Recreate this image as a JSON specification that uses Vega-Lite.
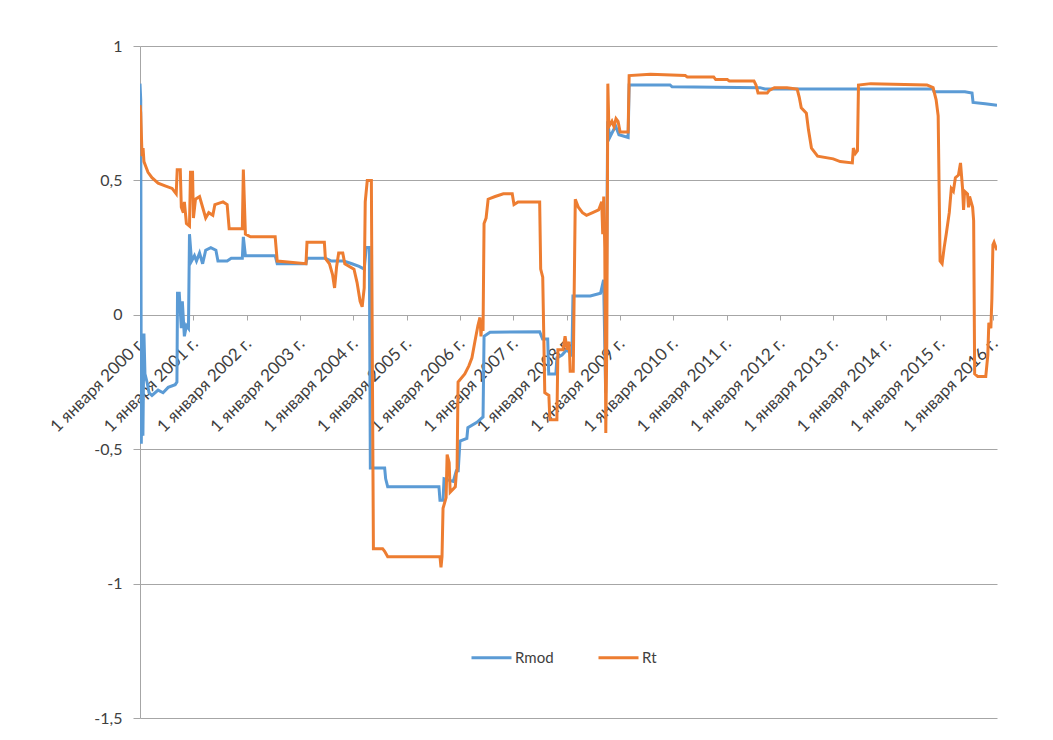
{
  "$schema": "https://vega.github.io/schema/vega-lite/v6.json",
  "autosize": {"type": "none"},
  "width": 857,
  "height": 672,
  "padding": {"left": 140, "top": 46, "right": 56, "bottom": 22},
  "background": "white",
  "config": {
    "view": {"stroke": null},
    "font": "Lato"
  },
  "data": {"values": [
    {"s":"Rmod","d":"2000-01-01","v":0.86},{"s":"Rmod","d":"2000-01-06","v":0.80},{"s":"Rmod","d":"2000-01-10","v":-0.48},{"s":"Rmod","d":"2000-01-17","v":-0.10},
    {"s":"Rmod","d":"2000-01-21","v":-0.45},{"s":"Rmod","d":"2000-01-28","v":-0.07},{"s":"Rmod","d":"2000-02-04","v":-0.22},{"s":"Rmod","d":"2000-02-18","v":-0.25},
    {"s":"Rmod","d":"2000-03-03","v":-0.29},{"s":"Rmod","d":"2000-03-23","v":-0.30},{"s":"Rmod","d":"2000-05-04","v":-0.28},{"s":"Rmod","d":"2000-06-07","v":-0.29},
    {"s":"Rmod","d":"2000-07-12","v":-0.27},{"s":"Rmod","d":"2000-08-29","v":-0.26},{"s":"Rmod","d":"2000-09-10","v":-0.25},{"s":"Rmod","d":"2000-09-14","v":0.08},
    {"s":"Rmod","d":"2000-09-26","v":0.08},{"s":"Rmod","d":"2000-10-10","v":-0.05},{"s":"Rmod","d":"2000-10-17","v":0.05},{"s":"Rmod","d":"2000-10-31","v":-0.08},
    {"s":"Rmod","d":"2000-11-14","v":-0.04},{"s":"Rmod","d":"2000-11-28","v":-0.05},{"s":"Rmod","d":"2000-12-05","v":0.30},{"s":"Rmod","d":"2000-12-19","v":0.20},
    {"s":"Rmod","d":"2001-01-08","v":0.22},{"s":"Rmod","d":"2001-01-22","v":0.20},{"s":"Rmod","d":"2001-02-12","v":0.23},{"s":"Rmod","d":"2001-03-05","v":0.19},
    {"s":"Rmod","d":"2001-03-26","v":0.24},{"s":"Rmod","d":"2001-04-30","v":0.25},{"s":"Rmod","d":"2001-06-04","v":0.24},{"s":"Rmod","d":"2001-06-18","v":0.20},
    {"s":"Rmod","d":"2001-08-20","v":0.20},{"s":"Rmod","d":"2001-09-17","v":0.21},{"s":"Rmod","d":"2001-12-02","v":0.21},{"s":"Rmod","d":"2001-12-09","v":0.29},
    {"s":"Rmod","d":"2001-12-23","v":0.22},{"s":"Rmod","d":"2002-07-15","v":0.22},{"s":"Rmod","d":"2002-07-29","v":0.19},{"s":"Rmod","d":"2003-02-11","v":0.19},
    {"s":"Rmod","d":"2003-02-18","v":0.21},{"s":"Rmod","d":"2003-06-24","v":0.21},{"s":"Rmod","d":"2003-08-05","v":0.20},{"s":"Rmod","d":"2003-10-28","v":0.20},
    {"s":"Rmod","d":"2003-12-23","v":0.19},{"s":"Rmod","d":"2004-02-10","v":0.18},{"s":"Rmod","d":"2004-03-16","v":0.17},{"s":"Rmod","d":"2004-03-30","v":0.25},
    {"s":"Rmod","d":"2004-04-20","v":0.25},{"s":"Rmod","d":"2004-04-27","v":-0.57},{"s":"Rmod","d":"2004-08-03","v":-0.57},{"s":"Rmod","d":"2004-08-10","v":-0.61},
    {"s":"Rmod","d":"2004-08-24","v":-0.64},{"s":"Rmod","d":"2005-08-10","v":-0.64},{"s":"Rmod","d":"2005-08-17","v":-0.69},{"s":"Rmod","d":"2005-09-07","v":-0.69},
    {"s":"Rmod","d":"2005-09-14","v":-0.61},{"s":"Rmod","d":"2005-11-16","v":-0.62},{"s":"Rmod","d":"2005-12-07","v":-0.58},{"s":"Rmod","d":"2005-12-20","v":-0.58},
    {"s":"Rmod","d":"2006-01-01","v":-0.47},{"s":"Rmod","d":"2006-02-17","v":-0.46},{"s":"Rmod","d":"2006-02-24","v":-0.42},{"s":"Rmod","d":"2006-04-27","v":-0.40},
    {"s":"Rmod","d":"2006-06-08","v":-0.38},{"s":"Rmod","d":"2006-06-15","v":-0.08},{"s":"Rmod","d":"2006-07-26","v":-0.065},{"s":"Rmod","d":"2007-07-01","v":-0.063},
    {"s":"Rmod","d":"2007-07-21","v":-0.09},{"s":"Rmod","d":"2007-08-25","v":-0.09},{"s":"Rmod","d":"2007-09-01","v":-0.22},{"s":"Rmod","d":"2007-10-20","v":-0.22},
    {"s":"Rmod","d":"2007-10-27","v":-0.16},{"s":"Rmod","d":"2007-12-01","v":-0.15},{"s":"Rmod","d":"2008-01-03","v":-0.13},{"s":"Rmod","d":"2008-02-07","v":-0.15},
    {"s":"Rmod","d":"2008-02-14","v":0.07},{"s":"Rmod","d":"2008-06-12","v":0.07},{"s":"Rmod","d":"2008-08-21","v":0.08},{"s":"Rmod","d":"2008-09-11","v":0.13},
    {"s":"Rmod","d":"2008-09-25","v":-0.29},{"s":"Rmod","d":"2008-10-09","v":0.72},{"s":"Rmod","d":"2008-10-23","v":0.66},{"s":"Rmod","d":"2008-11-20","v":0.69},
    {"s":"Rmod","d":"2008-12-04","v":0.70},{"s":"Rmod","d":"2008-12-25","v":0.67},{"s":"Rmod","d":"2009-02-26","v":0.66},{"s":"Rmod","d":"2009-03-05","v":0.855},
    {"s":"Rmod","d":"2009-12-10","v":0.855},{"s":"Rmod","d":"2009-12-24","v":0.848},{"s":"Rmod","d":"2011-08-18","v":0.845},{"s":"Rmod","d":"2011-09-22","v":0.84},
    {"s":"Rmod","d":"2014-11-16","v":0.84},{"s":"Rmod","d":"2014-11-23","v":0.83},{"s":"Rmod","d":"2015-06-22","v":0.83},{"s":"Rmod","d":"2015-08-10","v":0.825},
    {"s":"Rmod","d":"2015-08-17","v":0.79},{"s":"Rmod","d":"2015-11-08","v":0.785},{"s":"Rmod","d":"2016-01-28","v":0.78},

    {"s":"Rt","d":"2000-01-01","v":0.78},{"s":"Rt","d":"2000-01-06","v":0.75},{"s":"Rt","d":"2000-01-15","v":0.59},{"s":"Rt","d":"2000-01-22","v":0.62},
    {"s":"Rt","d":"2000-01-28","v":0.57},{"s":"Rt","d":"2000-02-11","v":0.55},{"s":"Rt","d":"2000-02-25","v":0.53},{"s":"Rt","d":"2000-03-23","v":0.51},
    {"s":"Rt","d":"2000-05-04","v":0.49},{"s":"Rt","d":"2000-06-21","v":0.48},{"s":"Rt","d":"2000-08-08","v":0.47},{"s":"Rt","d":"2000-09-05","v":0.45},
    {"s":"Rt","d":"2000-09-12","v":0.54},{"s":"Rt","d":"2000-10-03","v":0.54},{"s":"Rt","d":"2000-10-10","v":0.40},{"s":"Rt","d":"2000-10-24","v":0.38},
    {"s":"Rt","d":"2000-10-31","v":0.42},{"s":"Rt","d":"2000-11-14","v":0.34},{"s":"Rt","d":"2000-12-05","v":0.33},{"s":"Rt","d":"2000-12-12","v":0.53},
    {"s":"Rt","d":"2000-12-26","v":0.53},{"s":"Rt","d":"2001-01-01","v":0.36},{"s":"Rt","d":"2001-01-15","v":0.43},{"s":"Rt","d":"2001-02-12","v":0.44},
    {"s":"Rt","d":"2001-03-05","v":0.40},{"s":"Rt","d":"2001-03-26","v":0.36},{"s":"Rt","d":"2001-04-16","v":0.38},{"s":"Rt","d":"2001-05-14","v":0.37},
    {"s":"Rt","d":"2001-05-28","v":0.41},{"s":"Rt","d":"2001-07-23","v":0.42},{"s":"Rt","d":"2001-08-20","v":0.41},{"s":"Rt","d":"2001-09-03","v":0.32},
    {"s":"Rt","d":"2001-12-02","v":0.32},{"s":"Rt","d":"2001-12-09","v":0.54},{"s":"Rt","d":"2001-12-23","v":0.30},{"s":"Rt","d":"2002-01-27","v":0.29},
    {"s":"Rt","d":"2002-07-15","v":0.29},{"s":"Rt","d":"2002-07-29","v":0.20},{"s":"Rt","d":"2003-02-11","v":0.19},{"s":"Rt","d":"2003-02-18","v":0.27},
    {"s":"Rt","d":"2003-06-17","v":0.27},{"s":"Rt","d":"2003-06-24","v":0.21},{"s":"Rt","d":"2003-07-22","v":0.19},{"s":"Rt","d":"2003-08-12","v":0.15},
    {"s":"Rt","d":"2003-08-26","v":0.10},{"s":"Rt","d":"2003-09-09","v":0.18},{"s":"Rt","d":"2003-09-23","v":0.23},{"s":"Rt","d":"2003-10-21","v":0.23},
    {"s":"Rt","d":"2003-11-04","v":0.19},{"s":"Rt","d":"2004-01-06","v":0.17},{"s":"Rt","d":"2004-01-27","v":0.12},{"s":"Rt","d":"2004-02-17","v":0.05},
    {"s":"Rt","d":"2004-03-02","v":0.03},{"s":"Rt","d":"2004-03-16","v":0.10},{"s":"Rt","d":"2004-03-23","v":0.42},{"s":"Rt","d":"2004-04-06","v":0.50},
    {"s":"Rt","d":"2004-05-04","v":0.50},{"s":"Rt","d":"2004-05-11","v":-0.20},{"s":"Rt","d":"2004-05-18","v":-0.87},{"s":"Rt","d":"2004-07-20","v":-0.87},
    {"s":"Rt","d":"2004-08-03","v":-0.88},{"s":"Rt","d":"2004-08-24","v":-0.90},{"s":"Rt","d":"2005-08-17","v":-0.90},{"s":"Rt","d":"2005-08-24","v":-0.94},
    {"s":"Rt","d":"2005-08-31","v":-0.90},{"s":"Rt","d":"2005-09-07","v":-0.72},{"s":"Rt","d":"2005-09-28","v":-0.68},{"s":"Rt","d":"2005-10-05","v":-0.52},
    {"s":"Rt","d":"2005-10-19","v":-0.55},{"s":"Rt","d":"2005-10-26","v":-0.66},{"s":"Rt","d":"2005-11-30","v":-0.64},{"s":"Rt","d":"2005-12-07","v":-0.59},
    {"s":"Rt","d":"2005-12-12","v":-0.58},{"s":"Rt","d":"2005-12-19","v":-0.25},{"s":"Rt","d":"2006-02-03","v":-0.22},{"s":"Rt","d":"2006-03-03","v":-0.19},
    {"s":"Rt","d":"2006-03-24","v":-0.16},{"s":"Rt","d":"2006-04-13","v":-0.10},{"s":"Rt","d":"2006-05-04","v":-0.04},{"s":"Rt","d":"2006-05-18","v":-0.01},
    {"s":"Rt","d":"2006-05-25","v":-0.08},{"s":"Rt","d":"2006-06-01","v":-0.02},{"s":"Rt","d":"2006-06-08","v":-0.06},{"s":"Rt","d":"2006-06-15","v":0.34},
    {"s":"Rt","d":"2006-06-29","v":0.36},{"s":"Rt","d":"2006-07-13","v":0.43},{"s":"Rt","d":"2006-08-30","v":0.44},{"s":"Rt","d":"2006-10-25","v":0.45},
    {"s":"Rt","d":"2006-12-25","v":0.45},{"s":"Rt","d":"2007-01-06","v":0.41},{"s":"Rt","d":"2007-02-03","v":0.42},{"s":"Rt","d":"2007-07-01","v":0.42},
    {"s":"Rt","d":"2007-07-08","v":0.17},{"s":"Rt","d":"2007-07-22","v":0.14},{"s":"Rt","d":"2007-08-05","v":-0.29},{"s":"Rt","d":"2007-09-02","v":-0.30},
    {"s":"Rt","d":"2007-09-09","v":-0.39},{"s":"Rt","d":"2007-10-27","v":-0.39},{"s":"Rt","d":"2007-11-03","v":-0.13},{"s":"Rt","d":"2007-12-08","v":-0.13},
    {"s":"Rt","d":"2007-12-22","v":-0.08},{"s":"Rt","d":"2008-01-05","v":-0.13},{"s":"Rt","d":"2008-01-19","v":-0.10},{"s":"Rt","d":"2008-01-26","v":-0.21},
    {"s":"Rt","d":"2008-02-16","v":-0.21},{"s":"Rt","d":"2008-03-01","v":0.43},{"s":"Rt","d":"2008-03-22","v":0.40},{"s":"Rt","d":"2008-04-19","v":0.38},
    {"s":"Rt","d":"2008-05-17","v":0.37},{"s":"Rt","d":"2008-06-28","v":0.38},{"s":"Rt","d":"2008-08-08","v":0.39},{"s":"Rt","d":"2008-08-29","v":0.42},
    {"s":"Rt","d":"2008-09-05","v":0.30},{"s":"Rt","d":"2008-09-12","v":0.44},{"s":"Rt","d":"2008-09-19","v":0.25},{"s":"Rt","d":"2008-09-26","v":-0.44},
    {"s":"Rt","d":"2008-10-03","v":-0.10},{"s":"Rt","d":"2008-10-10","v":0.86},{"s":"Rt","d":"2008-10-17","v":0.70},{"s":"Rt","d":"2008-11-07","v":0.72},
    {"s":"Rt","d":"2008-11-21","v":0.70},{"s":"Rt","d":"2008-12-05","v":0.73},{"s":"Rt","d":"2008-12-19","v":0.72},{"s":"Rt","d":"2009-01-02","v":0.68},
    {"s":"Rt","d":"2009-02-26","v":0.68},{"s":"Rt","d":"2009-03-05","v":0.89},{"s":"Rt","d":"2009-07-29","v":0.895},{"s":"Rt","d":"2010-03-24","v":0.89},
    {"s":"Rt","d":"2010-04-07","v":0.885},{"s":"Rt","d":"2010-10-05","v":0.885},{"s":"Rt","d":"2010-10-19","v":0.875},{"s":"Rt","d":"2011-01-06","v":0.875},
    {"s":"Rt","d":"2011-01-20","v":0.87},{"s":"Rt","d":"2011-07-08","v":0.87},{"s":"Rt","d":"2011-07-22","v":0.855},{"s":"Rt","d":"2011-08-05","v":0.825},
    {"s":"Rt","d":"2011-10-07","v":0.825},{"s":"Rt","d":"2011-10-21","v":0.835},{"s":"Rt","d":"2011-11-25","v":0.845},{"s":"Rt","d":"2012-02-19","v":0.845},
    {"s":"Rt","d":"2012-04-29","v":0.84},{"s":"Rt","d":"2012-05-13","v":0.81},{"s":"Rt","d":"2012-05-27","v":0.77},{"s":"Rt","d":"2012-07-01","v":0.75},
    {"s":"Rt","d":"2012-07-15","v":0.69},{"s":"Rt","d":"2012-08-05","v":0.62},{"s":"Rt","d":"2012-09-16","v":0.59},{"s":"Rt","d":"2013-01-01","v":0.58},
    {"s":"Rt","d":"2013-02-18","v":0.57},{"s":"Rt","d":"2013-05-12","v":0.565},{"s":"Rt","d":"2013-05-19","v":0.62},{"s":"Rt","d":"2013-06-02","v":0.60},
    {"s":"Rt","d":"2013-06-16","v":0.61},{"s":"Rt","d":"2013-06-23","v":0.855},{"s":"Rt","d":"2013-09-15","v":0.86},{"s":"Rt","d":"2014-10-05","v":0.855},
    {"s":"Rt","d":"2014-11-16","v":0.845},{"s":"Rt","d":"2014-12-07","v":0.80},{"s":"Rt","d":"2014-12-21","v":0.74},{"s":"Rt","d":"2015-01-03","v":0.20},
    {"s":"Rt","d":"2015-01-17","v":0.19},{"s":"Rt","d":"2015-01-31","v":0.25},{"s":"Rt","d":"2015-02-14","v":0.30},{"s":"Rt","d":"2015-03-07","v":0.38},
    {"s":"Rt","d":"2015-03-21","v":0.47},{"s":"Rt","d":"2015-04-04","v":0.46},{"s":"Rt","d":"2015-04-18","v":0.51},{"s":"Rt","d":"2015-05-09","v":0.52},
    {"s":"Rt","d":"2015-05-23","v":0.565},{"s":"Rt","d":"2015-06-06","v":0.47},{"s":"Rt","d":"2015-06-13","v":0.39},{"s":"Rt","d":"2015-06-20","v":0.46},
    {"s":"Rt","d":"2015-07-10","v":0.45},{"s":"Rt","d":"2015-07-17","v":0.40},{"s":"Rt","d":"2015-07-24","v":0.44},{"s":"Rt","d":"2015-08-14","v":0.40},
    {"s":"Rt","d":"2015-08-21","v":0.35},{"s":"Rt","d":"2015-08-28","v":-0.22},{"s":"Rt","d":"2015-09-18","v":-0.23},{"s":"Rt","d":"2015-11-12","v":-0.23},
    {"s":"Rt","d":"2015-11-26","v":-0.15},{"s":"Rt","d":"2015-12-03","v":-0.03},{"s":"Rt","d":"2015-12-17","v":-0.05},{"s":"Rt","d":"2015-12-24","v":0.06},
    {"s":"Rt","d":"2015-12-31","v":0.26},{"s":"Rt","d":"2016-01-08","v":0.27},{"s":"Rt","d":"2016-01-28","v":0.24}
  ]},
  "encoding": {
    "x": {
      "field": "d", "type": "temporal", "title": null,
      "scale": {"domain": [{"year": 2000, "month": 1, "date": 1, "utc": true}, {"year": 2016, "month": 1, "date": 28, "utc": true}], "nice": false},
      "axis": {
        "orient": "bottom", "offset": -403, "grid": false,
        "tickCount": {"interval": "year", "step": 1},
        "labelExpr": "'1 января ' + timeFormat(datum.value, '%Y') + ' г.'",
        "labelAngle": -45, "labelAlign": "right", "labelBaseline": "top",
        "labelFontSize": 17, "labelColor": "#404040", "labelPadding": 15, "labelOffset": -4,
        "labelOverlap": false, "labelFlush": false, "labelBound": false,
        "domainColor": "#a6a6a6", "tickColor": "#a6a6a6", "tickSize": 5
      }
    },
    "y": {
      "field": "v", "type": "quantitative", "title": null,
      "scale": {"domain": [-1.5, 1], "nice": false, "zero": false},
      "axis": {
        "values": [-1.5, -1, -0.5, 0, 0.5, 1],
        "labelExpr": "replace(toString(datum.value), '.', ',')",
        "labelFontSize": 16, "labelColor": "#404040", "labelPadding": 11,
        "gridColor": "#a6a6a6", "gridWidth": 1,
        "domainColor": "#a6a6a6", "tickColor": "#a6a6a6", "tickSize": 7
      }
    },
    "color": {
      "field": "s", "type": "nominal",
      "scale": {"domain": ["Rmod", "Rt"], "range": ["#5B9BD5", "#ED7D31"]},
      "legend": {
        "title": null, "orient": "none", "legendX": 330, "legendY": 590,
        "direction": "horizontal", "symbolType": "stroke", "symbolSize": 1600,
        "symbolStrokeWidth": 3, "labelFontSize": 15, "labelColor": "#404040",
        "columnPadding": 38, "labelOffset": 2
      }
    }
  },
  "layer": [
    {
      "transform": [{"filter": "datum.s === 'Rmod'"}],
      "mark": {"type": "line", "strokeWidth": 3, "clip": true}
    },
    {
      "transform": [{"filter": "datum.s === 'Rt'"}],
      "mark": {"type": "line", "strokeWidth": 3, "clip": true}
    }
  ]
}
